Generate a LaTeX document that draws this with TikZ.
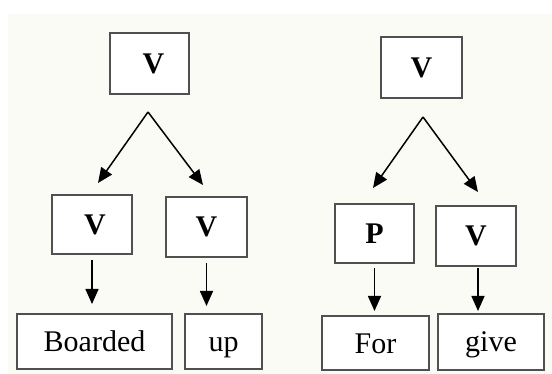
\documentclass[tikz,border=0pt]{standalone}
\usepackage{fontspec}
\setmainfont{Liberation Serif}
\usetikzlibrary{arrows.meta}
\definecolor{paper}{HTML}{FAFBF4}
\definecolor{edge}{HTML}{505050}
\tikzset{
  box/.style={draw=edge, line width=2.2pt, fill=white, inner sep=0pt,
    text height=20pt, text depth=0pt},
  tag/.style={box, font=\fontsize{30}{35}\selectfont\bfseries},
  word/.style={box, font=\fontsize{30}{35}\selectfont, yshift=1.5pt},
  arr/.style={line width=1.5pt, black,
    -{Triangle[length=15pt, width=13pt]}}
}
\begin{document}
\begin{tikzpicture}[x=1pt, y=-1pt]
  \useasboundingbox (0,0) rectangle (552,374);
  \fill[white] (0,0) rectangle (552,374);
  \fill[paper] (8,14) rectangle (552,374);

  % left tree: "Boarded up"
  \node[tag, minimum width=79pt, minimum height=61pt] (lv) at (149.5,63.5) {\hspace{8pt}V};
  \node[tag, minimum width=80pt, minimum height=59pt] (lv1) at (92,224.5) {\hspace{6pt}V};
  \node[tag, minimum width=81pt, minimum height=60pt] (lv2) at (206.5,227) {V};
  \node[word, minimum width=155pt, minimum height=55pt] (w1) at (94.5,343) {Boarded};
  \node[word, minimum width=77pt, minimum height=55pt] (w2) at (223.5,343) {up};
  \coordinate (la) at (148,112);
  \coordinate (lt1) at (98,183);
  \coordinate (lt2) at (203,185);
  \draw[arr] (la) -- (lt1);
  \draw[arr] (la) -- (lt2);
  \draw[arr] (lv1.south |- 0,260) -- (lv1.south |- 0,304);
  \draw[arr] (lv2.south |- 0,263) -- (lv2.south |- 0,306);

  % right tree: "For give"
  \node[tag, minimum width=81pt, minimum height=61pt] (rv) at (421.5,67.5) {V};
  \node[tag, minimum width=79pt, minimum height=59pt] (rp) at (374.5,233.5) {P};
  \node[tag, minimum width=80pt, minimum height=60pt] (rv2) at (476,236) {V};
  \node[word, minimum width=107pt, minimum height=54pt] (w3) at (375.5,344.5) {For};
  \node[word, minimum width=106pt, minimum height=56pt] (w4) at (491,343.5) {give};
  \coordinate (ra) at (423,117);
  \coordinate (rt1) at (373,188);
  \coordinate (rt2) at (478,192);
  \draw[arr] (ra) -- (rt1);
  \draw[arr] (ra) -- (rt2);
  \draw[arr] (rp.south |- 0,268) -- (rp.south |- 0,311);
  \draw[arr] (478,268) -- (478,311);
\end{tikzpicture}
\end{document}
